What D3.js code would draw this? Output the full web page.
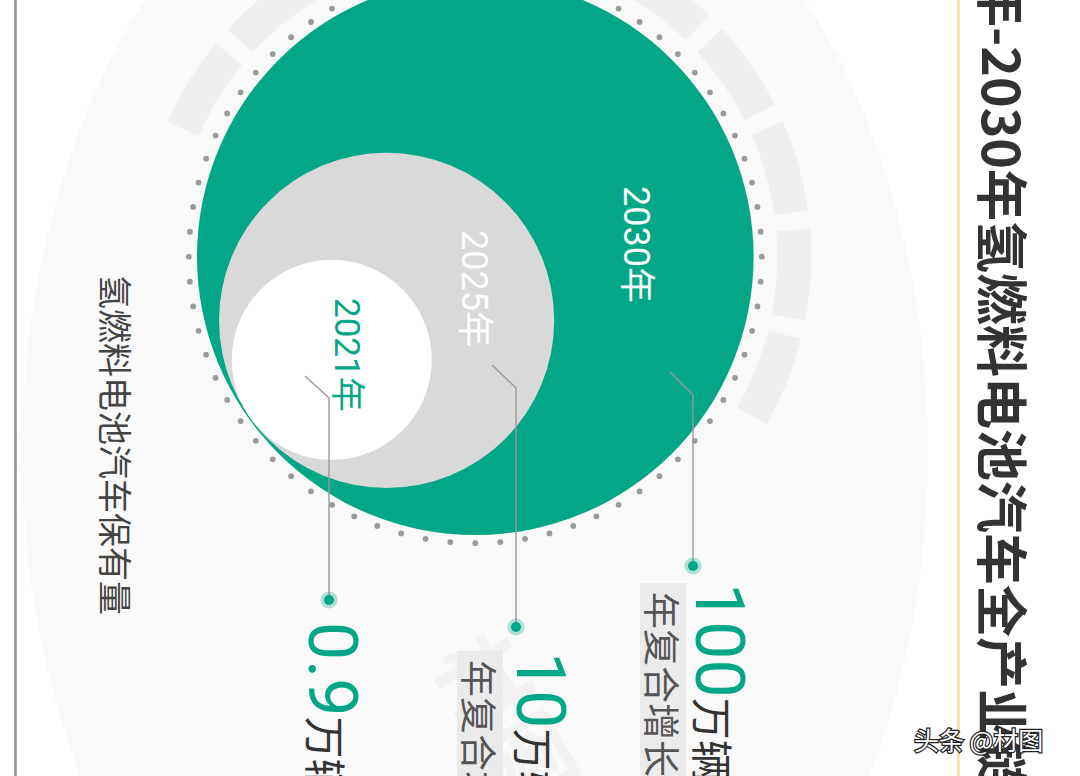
<!DOCTYPE html>
<html><head><meta charset="utf-8">
<script src="https://cdn.jsdelivr.net/npm/d3@7"></script>
<style>html,body{margin:0;padding:0;background:#fff;} svg{display:block}</style>
</head><body>
<svg id="c" width="1080" height="776"></svg>
<script>
// ---- data ----
const years = ["2021年", "2025年", "2030年"];
const values = [0.9, 10, 100];
const unit = "万辆";
const growthLabels = ["", "年复合增长率", "年复合增长率"];
const titlePrefix = "2021年-2030年";
const titleMain = "氢燃料电池汽车全产业链发展目标";
const axisLabel = "氢燃料电池汽车保有量";
const credit = "头条 @材图";

// ---- layout ----
const W = 1080, H = 776;
const GREEN = "#03a785";
const cx = 475.3, cy = 256.7;
const rScale = d3.scaleLog().domain([0.9, 10, 100]).range([100, 167.6, 278.3]);
const tangentAngle = 144.3 * Math.PI / 180;
const fillColors = ["#ffffff", "#d9d9d9", GREEN];
const yearColors = [GREEN, "#ffffff", "#ffffff"];
const yearPos = [{x: 335, y: 298, fs: 35}, {x: 462, y: 230, fs: 36}, {x: 624, y: 186, fs: 36}];
const leaders = [
  {x0: 305, y0: 376, x1: 329, y1: 398, y2: 600},
  {x0: 492, y0: 365, x1: 516, y1: 388, y2: 627},
  {x0: 670, y0: 372, x1: 693, y1: 395, y2: 566}
];
const numPos = [{x: 309, y: 622}, {x: 517, y: 652}, {x: 696, y: 583}];
const boxPos = [null, {x: 457, y: 651}, {x: 640, y: 583}];

const svg = d3.select("#c");
svg.append("rect").attr("width", W).attr("height", H).attr("fill", "#fff");

// background ellipse
svg.append("ellipse").attr("cx", 475).attr("cy", 452).attr("rx", 453).attr("ry", 660).attr("fill", "#f9f9f9");

// left border & right accent line
svg.append("line").attr("x1", 15.5).attr("x2", 15.5).attr("y1", 0).attr("y2", H).attr("stroke", "#8f8f8f").attr("stroke-width", 2.5);
svg.append("line").attr("x1", 958.5).attr("x2", 958.5).attr("y1", 0).attr("y2", H).attr("stroke", "#ffe2a6").attr("stroke-width", 3);

const g = svg.append("g").attr("transform", `translate(${cx},${cy})`);

// segmented ring
const period = 360 / 19, blockW = 15.8, start0 = -42.7;
const blocks = d3.range(-6, 4).map(k => start0 + k * period);
const arc = d3.arc().innerRadius(302).outerRadius(336);
g.selectAll("path.block").data(blocks).join("path").attr("class", "block")
  .attr("d", s => arc({startAngle: (s + 90) * Math.PI / 180, endAngle: (s + blockW + 90) * Math.PI / 180}))
  .attr("fill", "#efefef");

// dotted ring
const dots = d3.range(72).map(i => i * 5 * Math.PI / 180);
g.selectAll("circle.dot").data(dots).join("circle").attr("class", "dot")
  .attr("cx", a => 286.5 * Math.cos(a)).attr("cy", a => 286.5 * Math.sin(a))
  .attr("r", 2.9).attr("fill", "#9a9a9a");

// nested circles
const R = rScale(d3.max(values));
const circ = values.map((v, i) => {
  const r = rScale(v);
  const off = i === values.length - 1 ? 0 : (R - r - 1.5);
  return {r, x: off * Math.cos(tangentAngle), y: off * Math.sin(tangentAngle), i};
});
g.selectAll("circle.bub").data(circ.slice().reverse()).join("circle").attr("class", "bub")
  .attr("cx", d => d.x).attr("cy", d => d.y).attr("r", d => d.r)
  .attr("fill", d => fillColors[d.i]);

// year labels
const font = "Roboto, 'Noto Sans CJK SC', sans-serif";
svg.selectAll("text.year").data(years).join("text").attr("class", "year")
  .attr("transform", (d, i) => `translate(${yearPos[i].x},${yearPos[i].y}) rotate(90)`)
  .attr("font-family", font).attr("font-size", (d, i) => yearPos[i].fs)
  .attr("fill", (d, i) => yearColors[i]).text(d => d);

// leader lines
const line = d3.line();
svg.selectAll("path.leader").data(leaders).join("path").attr("class", "leader")
  .attr("d", d => line([[d.x0, d.y0], [d.x1, d.y1], [d.x1, d.y2]]))
  .attr("fill", "none").attr("stroke", "#999").attr("stroke-width", 1.4);
svg.selectAll("circle.halo").data(leaders).join("circle").attr("class", "halo")
  .attr("cx", d => d.x1).attr("cy", d => d.y2).attr("r", 8.5).attr("fill", GREEN).attr("opacity", 0.3);
svg.selectAll("circle.pt").data(leaders).join("circle").attr("class", "pt")
  .attr("cx", d => d.x1).attr("cy", d => d.y2).attr("r", 5).attr("fill", GREEN);

// faint watermark
svg.append("text").attr("transform", "translate(432,660) rotate(60)")
  .attr("font-family", "'Noto Sans CJK SC', sans-serif").attr("font-size", 90).attr("font-weight", 700)
  .attr("fill", "#000").attr("opacity", 0.025).text("材图");

// growth boxes
growthLabels.forEach((t, i) => {
  if (!t) return;
  const b = boxPos[i];
  svg.append("rect").attr("x", b.x).attr("y", b.y).attr("width", 46).attr("height", H - b.y + 10).attr("fill", "#ebebeb");
  svg.append("text").attr("transform", `translate(${b.x + 23},${b.y + 9}) rotate(90)`)
    .attr("dominant-baseline", "central")
    .attr("font-family", "'Noto Sans CJK SC', sans-serif").attr("font-size", 37).attr("fill", "#555").text(t);
});

// value labels
values.forEach((v, i) => {
  const p = numPos[i];
  const t = svg.append("text").attr("transform", `translate(${p.x},${p.y}) rotate(90)`).attr("font-family", font);
  t.append("tspan").attr("font-size", 68).attr("fill", GREEN).text(d3.format("")(v));
  t.append("tspan").attr("font-size", 42).attr("fill", "#333").attr("font-family", "'Noto Sans CJK SC', sans-serif").text(unit);
});

// axis-like label
svg.append("text").attr("transform", "translate(116,275) rotate(90)")
  .attr("dominant-baseline", "central")
  .attr("font-family", "'Noto Sans CJK SC', sans-serif").attr("font-size", 34).attr("fill", "#444").text(axisLabel);

// title
const tFont = "'Noto Sans CJK SC', sans-serif";
svg.append("text").attr("transform", "translate(1004,221) rotate(90)")
  .attr("dominant-baseline", "central").attr("text-anchor", "end")
  .attr("font-family", tFont).attr("font-weight", 700).attr("font-size", 52).attr("fill", "#333").text(titlePrefix);
svg.append("text").attr("transform", "translate(1004,221) rotate(90)")
  .attr("dominant-baseline", "central")
  .attr("font-family", tFont).attr("font-weight", 700).attr("font-size", 52).attr("fill", "#333").text(titleMain);

// credit
svg.append("text").attr("x", 914).attr("y", 750)
  .attr("font-family", "'Noto Sans CJK SC', sans-serif").attr("font-size", 25)
  .attr("fill", "#fff").attr("stroke", "#222").attr("stroke-width", 2.5).attr("paint-order", "stroke")
  .text(credit);
</script>
</body></html>
